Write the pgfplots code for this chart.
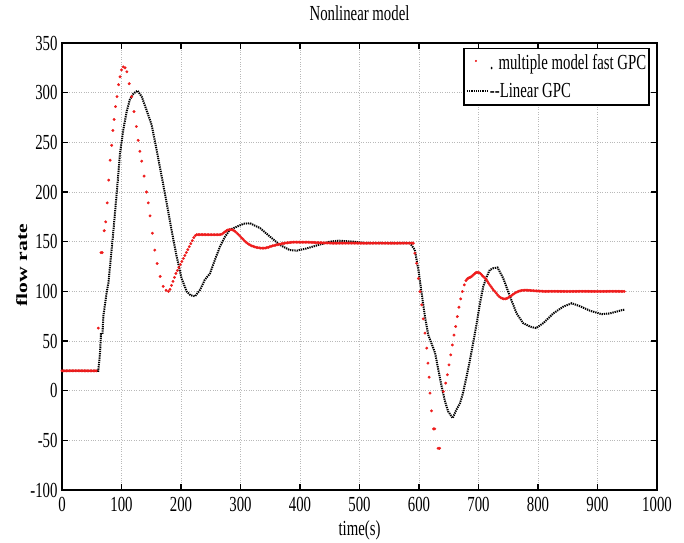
\documentclass[border=0pt]{standalone}
\usepackage{fontspec}
\setmainfont{Liberation Serif}
\usepackage{graphicx}
\usepackage{pgfplots}
\pgfplotsset{compat=1.18}
\definecolor{myred}{RGB}{238,28,28}
\newcommand{\vs}[1]{\scalebox{1}[1.45]{#1}}
\newcommand{\fs}{\fontsize{14.8bp}{17bp}\selectfont}
\pgfplotsset{
  legdot/.style={legend image code/.code={\draw[##1, mark size=0.9bp] plot coordinates {(9bp,2bp)};}},
  legline/.style={legend image code/.code={\draw[##1] (0bp,0bp) -- (21bp,0bp);}},
}

\pgfplotstableread{
x y
0 20
61 20
64 38.5
65.5 57
68 57
69.5 75
75 98.6
78 108.6
80.7 125
86 158.5
92 199
97.5 239
103 262.5
108.7 281
114 293
120 299
127 302
134 296
142 282.6
150.7 267.5
159 242.4
167.6 215.5
176 188.7
184 162
192.7 135
201 113
209.6 99.8
216 96
223.5 95
232 101.5
240 111.6
248.7 118
257 131.7
265.5 145
274 155
282 162
293.6 165
305 168
316 168.6
333 163.6
349.6 155
366 146.8
383 141.5
394.5 141
410 143
430 146.5
450 150
465 151
490 150
512 148.5
585 148.5
593 141.7
599 121.6
604.5 98
610 74.5
615.6 56
621 47.6
627 38
632.5 21
638 4.3
643.7 -10.8
649 -20.9
656.6 -27.6
663 -19
669 -12.5
674 -2.3
680 14.4
685.7 31
691 48
697 68
702.5 88
708 105
714 115
719 121.6
725 123.3
732 124
741.7 113
753 94.6
764 77.8
775 68
786.5 64.5
796.6 63
809 68
825.7 77.8
842.5 84.6
856.6 88
870.6 85
887.4 80.5
907 77
921 77.8
940.7 81
945 81.5
}\lingpc

\begin{document}
\begin{tikzpicture}
\path[use as bounding box] (-62bp,-53bp) rectangle (622bp,490bp);
\begin{axis}[
  at={(0,0)}, anchor=south west,
  scale only axis, width=595bp, height=447bp,
  xmin=0, xmax=1000, ymin=-100, ymax=350,
  xtick={0,100,...,1000},
  ytick={-100,-50,...,350},
  xticklabels={\vs{0},\vs{100},\vs{200},\vs{300},\vs{400},\vs{500},\vs{600},\vs{700},\vs{800},\vs{900},\vs{1000}},
  yticklabels={\vs{-100},\vs{-50},\vs{0},\vs{50},\vs{100},\vs{150},\vs{200},\vs{250},\vs{300},\vs{350}},
  tick label style={font=\fs},
  xticklabel style={yshift=-4bp},
  yticklabel style={xshift=-1bp},
  tick align=inside,
  major tick length=6bp,
  every tick/.style={black, line width=1.3bp},
  axis line style={line width=1.6bp},
  grid=major,
  major grid style={gray!55, dotted, line width=0.6bp},
  title={\vs{Nonlinear model}},
  title style={font=\fs, anchor=base, at={(axis description cs:0.5,1)}, yshift=17bp},
  xlabel={\vs{time(s)}},
  xlabel style={font=\fs, anchor=base, at={(axis description cs:0.5,0)}, yshift=-45bp},
  ylabel={\textbf{\scalebox{1.4}[1]{flow rate}}},
  ylabel style={font=\fontsize{15.5bp}{18bp}\selectfont, anchor=base, at={(axis description cs:-0.0588,0.503)}},
  legend style={at={(axis description cs:0.988,0.989)}, anchor=north east,
     draw=black, line width=1.4bp, font=\fs, fill=white,
     inner xsep=2bp, inner ysep=4bp, row sep=8bp,
     nodes={inner xsep=1bp, inner ysep=2bp}},
  legend cell align=left,
]
\addplot[only marks, mark=*, mark size=1.3bp, color=myred,
   mark options={line width=0.3bp}, legdot] coordinates {
(0,20)(2.5,20)(5,20)(7.5,20)(10,20)(12.5,20)(15,20)(17.5,20)(20,20)(22.5,20)(25,20)(27.5,20)
(30,20)(32.5,20)(35,20)(37.5,20)(40,20)(42.5,20)(45,20)(47.5,20)(50,20)(52.5,20)(55,20)(57.5,20)
(61,63)(65.5,139)(67.5,139)(71,161)(73.5,170)(76,189)(78.5,212)(81,232)(83.5,247)(85.5,262)
(87.5,273)(90,286)(92.5,296)(95,308)(97.5,316)(100,323)(103,326)(106,325)(109,321)(113,309)
(117,296)(121,281)(125,266)(128,252)(131,241)(134,231)(138,216)(142,200)(145,189)(148,176)
(152,158.5)(156,141.5)(160,128)(165,115)(170,105)(175,101)(179,100)
(181.5,102)(184,106)(186.5,110)(189,114)(191.5,118)(194,121)(196.5,124)(199,127)(201.5,130)
(204,133)(206.5,136)(209,139)(211.5,142)(214,145)(216.5,148)(219,151)(221.5,154)(224,156)(226.5,157)
(229,157)(231.5,157)(234,157)(236.5,157)(239,157)(241.5,157)(244,157)(246.5,157)(249,157)
(251.5,157)(254,157)(256.5,157)(259,157)(261.5,157)(264,157)(266.5,157.2)
(269,157.6)(271.5,158.8)(274,160)(276.5,161)(279,161.8)(281.5,162.2)(284,162)(286.5,161.8)
(289,161.2)(291.5,160)(294,158.6)(296.5,157.2)(299,155.6)(301.5,154)(304,152.6)(306.5,151)
(309,149.6)(311.5,148.4)(314,147.4)(316.5,146.5)(319,145.8)(321.5,145.2)(324,144.7)(326.5,144.3)
(329,144)(331.5,143.7)(334,143.5)(336.5,143.5)(339,143.5)(341.5,143.6)(344,143.9)(346.5,144.3)
(349,144.8)(351.5,145.3)(354,145.8)(356.5,146.2)(359,146.5)(361.5,146.9)(364,147.2)(366.5,147.5)
(369,147.9)(371.5,148.2)(374,148.4)(376.5,148.7)(379,148.9)(381.5,149.1)(384,149.3)(386.5,149.4)
(389,149.5)(391.5,149.5)(394,149.5)(396.5,149.5)(399,149.5)(401.5,149.5)(404,149.5)(406.5,149.5)
(409,149.5)(411.5,149.5)(414,149.5)(416.5,149.4)(419,149.3)(421.5,149.2)(424,149.2)(426.5,149.1)
(429,149)(431.5,148.9)(434,148.9)(436.5,148.9)(439,148.8)(441.5,148.7)(444,148.7)(446.5,148.7)
(449,148.6)(451.5,148.6)(454,148.5)(456.5,148.5)(459,148.5)(461.5,148.5)(464,148.5)(466.5,148.5)
(469,148.5)(471.5,148.5)(474,148.5)(476.5,148.5)(479,148.5)(481.5,148.5)(484,148.5)(486.5,148.5)
(489,148.5)(491.5,148.5)(494,148.5)(496.5,148.5)(499,148.5)(501.5,148.5)(504,148.5)(506.5,148.5)
(509,148.5)(511.5,148.5)(514,148.5)(516.5,148.5)(519,148.5)(521.5,148.5)(524,148.5)(526.5,148.5)
(529,148.5)(531.5,148.5)(534,148.5)(536.5,148.5)(539,148.5)(541.5,148.5)(544,148.5)(546.5,148.5)
(549,148.5)(551.5,148.5)(554,148.5)(556.5,148.5)(559,148.5)(561.5,148.5)(564,148.5)(566.5,148.5)
(569,148.5)(571.5,148.5)(574,148.5)(576.5,148.5)(579,148.5)(581.5,148.5)(584,148.5)(586.5,148.5)
(589,148.5)(590.5,148.5)
(593,138.4)(596,128.3)(599,113)(601.7,99.8)(604.5,86.4)(607,72.3)(610,57.9)(613,42.8)(615,27.7)
(617,13.6)(618.5,-2.5)(621,-20.4)(624.5,-38.5)(626.5,-38.5)(632,-58)(634.5,-58)
(641,-0.8)(644.8,7.6)(647.6,16)(650.4,26)(653.3,36)(656,46)(658.8,56)(661.7,64.6)(664.4,74.6)
(667.2,84)(670,92.4)(672.8,99.8)(676.2,106.5)(679,110.9)(681,112.5)(683,113.3)(685,113.8)(687,114.4)
(689,115.2)(691,116.4)(693,117.5)(695,118.5)(697,119)(699,119)(701,118.8)(703,118)(705,116.8)
(707,115.5)(709,114.4)(711,113.3)(713,111.7)(715,110)(717,108.2)(719,106.5)(721,104.7)(723,103)
(725,101.4)(727.5,99.8)(730,98)(732.5,96.2)(735,94.6)(737.5,93.5)(740,92.8)(742.5,92.5)(745,92.4)
(747.5,92.8)(750,93.6)(752.5,94.6)(755,95.5)(757.5,96.6)(760,97.6)(762.5,98.6)(765,99.4)(767.5,100)
(770,100.5)(772.5,100.8)(775,101)(777.5,101.1)(780,101.2)(782.5,101.1)(785,101)(787.5,100.8)
(790,100.7)(792.5,100.6)(795,100.5)(797.5,100.4)(800,100.3)(802.5,100.2)(805,100.2)(807.5,100.1)
(810,100)(812.5,100)(815,100)(817.5,100)(820,100)(822.5,100)(825,100)(827.5,100)(830,100)
(832.5,100)(835,100)(837.5,100)(840,100)(842.5,100)(845,100)(847.5,100)(850,100)(852.5,100)
(855,100)(857.5,100)(860,100)(862.5,100)(865,100)(867.5,100)(870,100)(872.5,100)(875,100)
(877.5,100)(880,100)(882.5,100)(885,100)(887.5,100)(890,100)(892.5,100)(895,100)(897.5,100)
(900,100)(902.5,100)(905,100)(907.5,100)(910,100)(912.5,100)(915,100)(917.5,100)(920,100)
(922.5,100)(925,100)(927.5,100)(930,100)(932.5,100)(935,100)(937.5,100)(940,100)(942.5,100)(945,100)
};
\addlegendentry{\vs{. multiple model fast GPC}}
\addplot[black, line width=2bp, dash pattern=on 1.3bp off 0.9bp, legline] table {\lingpc};
\addlegendentry{\vs{-{}-Linear GPC}}
\end{axis}
\end{tikzpicture}
\end{document}
